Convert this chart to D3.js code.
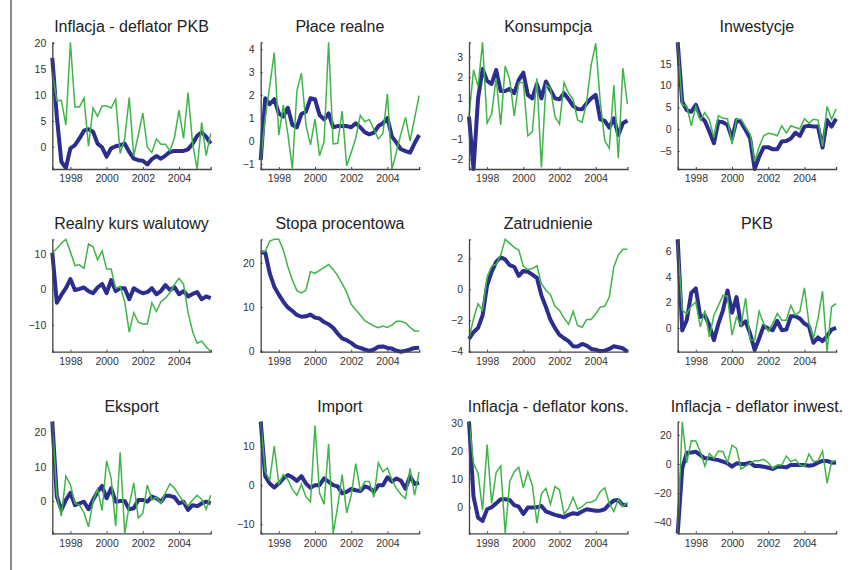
<!DOCTYPE html>
<html>
<head>
<meta charset="utf-8">
<script src="https://cdn.jsdelivr.net/npm/d3@7"></script>
<style>
  html, body { margin: 0; padding: 0; background: #fff; }
  svg { display: block; font-family: "Liberation Sans", Arial, sans-serif; }
  .tick text { fill: #333; }
</style>
</head>
<body>
<svg id="chart" width="853" height="570"></svg>
<script>
// Quarterly observations 1997Q1 – 2005Q4
const startYear = 1997;
const nQuarters = 36;
const xTickYears = [1998, 2000, 2002, 2004];

const titles = [
  "Inflacja - deflator PKB", "Płace realne", "Konsumpcja", "Inwestycje",
  "Realny kurs walutowy", "Stopa procentowa", "Zatrudnienie", "PKB",
  "Eksport", "Import", "Inflacja - deflator kons.", "Inflacja - deflator inwest."
];

// thin green series
const deflPkbGreen = [14.5, 8.9, 9.0, 4.2, 20.2, 7.7, 7.7, 9.4, 0.1, 7.5, 5.9, 7.9, 7.9, 7.5, 9.2, -1.3, 1.6, 9.5, -1.8, 2.3, 6.5, -0.1, -1.1, 1.5, 0.5, 0.5, -0.8, 1.8, 7.1, 1.6, 10.5, 0.6, -4.3, 4.7, -1.7, 2.6];
const placeGreen = [-0.83, 1.0, 2.4, 3.85, 0.26, 1.57, 0.3, -1.2, 2.2, 2.95, 0.7, -0.17, 0.95, -0.64, -0.03, 4.3, -0.13, -0.1, 1.3, -1.08, -0.5, 0.12, 1.12, 0.84, 0.94, 0.5, 0.09, 0.33, 2.05, -1.22, -0.47, 0.33, 1.03, 0.01, 0.99, 1.98];
const konsGreen = [0.08, 2.35, 1.54, 3.7, -0.24, 0.21, 1.95, -0.32, 2.55, 1.87, 0.11, 1.74, 1.74, -0.86, -0.65, 1.95, -2.39, 1.62, 1.46, 0.08, -0.28, 1.74, 1.22, 0.93, -0.08, -0.19, 0.81, 2.6, 3.65, 0.81, -1.09, -1.46, 1.62, -1.95, 2.44, 0.7];
const inwGreen = [19.9, 5.6, 5.3, 0.8, 5.2, 2.1, 3.8, 2.1, -1.9, 3.1, 2.5, 2.4, -3.4, 2.3, 2.3, 0.5, -1.1, -7.4, -4.0, -1.5, -0.9, -1.1, -1.5, 0.8, -0.9, 0.8, 0.4, 0.1, 2.4, 1.4, 2.3, 2.1, -4.0, 5.2, 2.3, 4.6];
const kursGreen = [10.3, 11.5, 13, 14.1, 10.6, 6.7, 6.9, 5.9, 12.8, 12, 8.3, 10.8, 5.7, 5.7, 0.3, 0.8, -3.5, -12.1, -6.6, -9.3, -9.8, -9.8, -3.8, -6.3, -3.5, -2.5, -0.9, 1.4, 3.1, 1.4, -6.5, -11.9, -15.2, -14.6, -16.2, -17.6];
const stopaGreen = [22.5, 22.6, 24.9, 25.3, 25.3, 22.9, 19.1, 16.1, 13.7, 13.2, 13.8, 18.0, 17.6, 18.3, 18.9, 19.6, 18.5, 17.1, 15.3, 13.3, 10.6, 9.4, 8.2, 6.9, 6.3, 5.7, 5.3, 5.7, 5.4, 5.9, 6.8, 6.8, 6.4, 5.4, 4.6, 4.6];
const zatrGreen = [-3.2, -1.9, -0.93, -1.36, 0.8, 1.49, 1.62, 2.21, 3.23, 2.97, 2.71, 2.54, 1.49, 1.28, 1.34, 1.52, 0.37, -0.06, -0.35, -1.1, -1.36, -1.86, -2.27, -1.43, -2.34, -2.45, -1.95, -1.95, -1.58, -1.15, -1.1, -0.5, 1.45, 2.21, 2.58, 2.58];
const pkbGreen = [6.6, 1.38, 1.12, 1.71, 2.03, 0.08, 1.38, -0.7, 0.99, 1.77, 2.55, 2.49, -0.57, 0.86, 0.2, 2.34, -0.96, -0.96, 1.3, 0.34, -0.26, 0.34, 1.12, 0.6, 0.6, 1.77, 0.99, 1.3, 3.14, 0.34, -0.78, 0.73, 2.88, -1.87, 1.64, 1.9];
const eksGreen = [23.1, 1.7, -4.4, 7.3, 4.7, -0.7, -1.2, -3.4, -7.5, -0.2, 3.5, -2.8, 11.7, 6.6, -7.3, 14.2, -9.4, -1.2, 5.3, -5.0, -3.6, 4.7, 0.3, 1.1, -0.7, 2.4, 5.0, 3.7, 1.7, -0.2, -1.4, 0.3, 1.7, 0.5, -2.4, 1.7];
const impGreen = [16.2, 3.4, 1.3, 10, 0.4, 2.7, 1.4, -1.1, -2.6, 0.2, -3.0, -4.3, 15.3, -2.0, -4.9, 10.5, -12.3, -5.5, 2.7, -7.1, -2.6, 5.5, -1.3, 0.9, 0.9, -3.1, 5.7, 3.4, 4.4, 1.3, -0.9, -2.4, -3.4, 4.3, -2.6, 3.4];
const deflKonsGreen = [30.6, 15.7, 12.1, -1.0, 22.4, 1.4, 12.4, 14.8, -9.3, 9.2, 12.7, 14.3, 7.0, 12.7, 7.9, -5.7, 4.8, 6.8, 1.1, 7.4, 6.2, -2.4, -0.4, 3.6, -0.7, 0.2, 1.7, 1.8, 2.6, 5.6, 7.0, 1.4, -1.5, 2.9, 0.2, 1.8];
const deflInwGreen = [-47.6, 29.1, 0.9, 16.0, 15.8, 8.5, -1.4, 7.3, 3.9, 8.9, 8.5, 0.9, 13.0, 10.8, -3.4, -1.4, 0.5, 2.3, 2.3, 3.2, 0.9, -3.0, -0.7, -0.7, 5.5, 1.6, 3.2, -0.7, -1.8, 6.9, 1.6, 2.3, 8.9, -13.2, 1.6, 2.3];

// thick blue series
const deflPkbBlue = [17.2, 5.8, -2.9, -4.1, -0.3, 0.3, 1.6, 3.1, 3.4, 2.9, 0.6, -0.1, -1.9, -0.3, 0.1, 0.3, 0.6, -1.0, -2.3, -2.6, -2.7, -3.4, -2.4, -1.8, -2.3, -1.7, -1.0, -0.8, -0.8, -0.8, -0.5, 0.6, 2.1, 2.8, 1.9, 0.6];
const placeBlue = [-0.83, 1.86, 1.6, 1.82, 1.2, 1.06, 1.45, 0.7, 0.6, 1.18, 1.28, 1.86, 1.82, 1.13, 0.94, 1.2, 0.6, 0.65, 0.65, 0.65, 0.6, 0.77, 0.6, 0.38, 0.29, 0.36, 0.65, 0.77, 1.0, 0.19, -0.07, -0.36, -0.44, -0.51, -0.1, 0.26];
const konsBlue = [0.08, -2.47, 0.97, 2.4, 1.82, 1.67, 2.35, 1.33, 1.33, 1.43, 1.22, 1.87, 2.22, 1.14, 0.97, 1.67, 0.97, 1.79, 1.38, 0.97, 0.93, 1.22, 0.93, 0.6, 0.45, 0.44, 0.73, 0.97, 1.14, -0.05, -0.13, -0.45, 0, -0.81, -0.24, -0.11];
const inwBlue = [19.9, 6.3, 4.4, 4.0, 5.6, 2.9, 1.9, -0.5, -3.2, 1.8, 1.6, 1.0, -2.1, 2.1, 1.6, -0.2, -2.1, -9.1, -6.3, -4.1, -4.1, -4.6, -4.6, -2.8, -2.7, -2.1, -0.8, -1.5, 0.6, 0.8, 0.6, 0.6, -4.2, 2.1, 0.6, 2.4];
const kursBlue = [10.3, -3.8, -1.6, 0.3, 2.9, -0.2, 0.1, 0.5, -0.5, -1.1, 0.5, 1.5, -1.1, 2.6, -0.5, 0.3, 0.3, -2.8, 0.3, -0.5, -1.1, -0.8, 0.3, -1.4, -0.5, 1.2, -0.2, 0.6, -1.4, -0.5, -2.0, -1.3, -0.8, -2.8, -2.0, -2.5];
const stopaBlue = [22.3, 22.3, 17.6, 14.6, 12.8, 11.2, 9.9, 9.1, 8.2, 7.8, 7.9, 8.3, 7.6, 7.4, 6.6, 6.1, 5.3, 4.0, 2.9, 2.5, 1.9, 1.1, 0.75, 0.4, 0.1, 0.4, 1.0, 1.1, 0.75, 0.6, 0.1, -0.1, 0.1, 0.4, 0.75, 0.8];
const zatrBlue = [-3.2, -2.77, -2.49, -1.69, 0.26, 1.13, 1.77, 2.06, 1.93, 1.56, 1.45, 0.87, 1.19, 1.13, 0.95, 0.74, -0.39, -1.15, -1.97, -2.51, -2.94, -3.16, -3.35, -3.68, -3.7, -3.53, -3.64, -3.85, -3.9, -4.0, -3.96, -3.85, -3.68, -3.74, -3.81, -4.03];
const pkbBlue = [6.96, -0.2, 0.6, 2.75, 3.1, 0.86, 0.99, 0.2, -0.96, 0.34, 1.38, 2.94, 1.2, 2.42, 0.2, 0.52, -0.44, -1.74, -0.83, 0.16, -0.05, -0.18, 0.55, -0.18, -0.13, 0.91, 0.91, 0.73, 0.34, 0.13, -1.17, -0.75, -1.04, -0.65, -0.13, 0];
const eksBlue = [23.1, 1.3, -2.6, 0.3, 2.4, -1.2, -0.7, -0.2, -2.4, 0.3, 2.7, 4.4, 0.8, 3.7, -0.2, 0, 0, -2.4, -2.1, 0.3, 0.3, -0.2, 1.3, 0.8, -0.2, 1.5, 1.5, 1.1, -0.7, -0.2, -2.6, -1.2, -1.5, -0.7, -0.2, -0.7];
const impBlue = [16.2, 2.3, 0.4, -0.6, 0.4, 1.7, 2.6, 2.0, 1.1, 2.3, 0.4, -0.7, 0, 0, 1.7, 0.9, 0, -0.3, -2.1, -1.7, -1.0, -1.3, -1.5, -0.3, -0.7, -1.7, 0, 0, 2.0, 0.9, 1.7, 1.1, -0.9, 2.3, 0.3, 0.6];
const deflKonsBlue = [30.6, 3.8, -3.7, -4.9, -0.7, 0, 1.4, 2.9, 2.9, 2.6, 0.8, 0.2, -2.4, -0.1, -0.1, 0, 0.5, -1.5, -2.1, -2.7, -3.1, -3.6, -2.7, -2.1, -2.4, -1.5, -0.7, -1.0, -1.2, -1.2, -0.7, 1.1, 2.4, 2.6, 0.8, 0.8];
const deflInwBlue = [-47.6, -3, 7.8, 8.0, 8.5, 6.2, 3.9, 3.9, 3.2, 2.7, 1.6, 0.5, -1.8, 0.5, 0, 0, 0.9, -1.4, -1.4, -1.8, -2.5, -3.4, -1.8, -1.8, -2.3, -0.7, -0.7, -0.7, -0.7, -1.1, -0.7, 0.9, 2.1, 2.1, 0.9, 1.1];

// y tick labels per panel
const yTicks = [
  [0, 5, 10, 15, 20], [-1, 0, 1, 2, 3, 4], [-2, -1, 0, 1, 2, 3], [-5, 0, 5, 10, 15],
  [-10, 0, 10], [0, 10, 20], [-4, -2, 0, 2], [0, 2, 4, 6],
  [0, 10, 20], [-10, 0, 10], [0, 10, 20, 30], [-40, -20, 0, 20]
];

const greens = [deflPkbGreen, placeGreen, konsGreen, inwGreen, kursGreen, stopaGreen,
                zatrGreen, pkbGreen, eksGreen, impGreen, deflKonsGreen, deflInwGreen];
const blues = [deflPkbBlue, placeBlue, konsBlue, inwBlue, kursBlue, stopaBlue,
               zatrBlue, pkbBlue, eksBlue, impBlue, deflKonsBlue, deflInwBlue];

const GREEN = "#3fb449";
const BLUE = "#2b2e8e";

// grid geometry
const colLeft = [52.3, 260.7, 469, 677.7];
const plotW = 158.4;
const rows = [{ top: 42.3, bottom: 169 }, { top: 239.3, bottom: 351.7 }, { top: 421.7, bottom: 533.3 }];

const svg = d3.select("#chart");

// left frame edge
svg.append("line")
  .attr("x1", 11).attr("x2", 11).attr("y1", 0).attr("y2", 570)
  .attr("stroke", "#8a8a8a").attr("stroke-width", 2);

const quarters = d3.range(nQuarters).map(i => startYear + i / 4);

titles.forEach((title, k) => {
  const r = Math.floor(k / 4), c = k % 4;
  const left = colLeft[c], right = left + plotW;
  const { top, bottom } = rows[r];

  const x = d3.scaleLinear().domain([quarters[0], quarters[nQuarters - 1]]).range([left, right]);
  const ext = d3.extent(greens[k].concat(blues[k]));
  const y = d3.scaleLinear().domain(ext).range([bottom, top]);

  const g = svg.append("g");

  const line = d3.line().x((d, i) => x(quarters[i])).y(d => y(d));

  g.append("path").datum(blues[k])
    .attr("d", line).attr("fill", "none")
    .attr("stroke", BLUE).attr("stroke-width", 4)
    .attr("stroke-linejoin", "round").attr("stroke-linecap", "butt");

  g.append("path").datum(greens[k])
    .attr("d", line).attr("fill", "none")
    .attr("stroke", GREEN).attr("stroke-width", 1.5)
    .attr("stroke-linejoin", "miter");

  const yAxis = d3.axisLeft(y).tickValues(yTicks[k]).tickSize(-2).tickPadding(6).tickFormat(d3.format("d"));
  const xAxis = d3.axisBottom(x).tickValues(xTickYears).tickSize(-2).tickPadding(6).tickFormat(d3.format("d"));

  const ya = g.append("g").attr("transform", `translate(${left},0)`).call(yAxis);
  const xa = g.append("g").attr("transform", `translate(0,${bottom})`).call(xAxis);

  [ya, xa].forEach(a => {
    a.select(".domain").attr("stroke", "#444").attr("stroke-width", 1.3);
    a.selectAll(".tick line").attr("stroke", "#444");
    a.selectAll(".tick text").attr("font-size", 10.5).attr("fill", "#333")
      .attr("font-family", "Liberation Sans, Arial, sans-serif");
  });

  g.append("text")
    .attr("x", (left + right) / 2).attr("y", top - 10)
    .attr("text-anchor", "middle")
    .attr("font-size", 16).attr("fill", "#222")
    .text(title);
});
</script>
</body>
</html>
